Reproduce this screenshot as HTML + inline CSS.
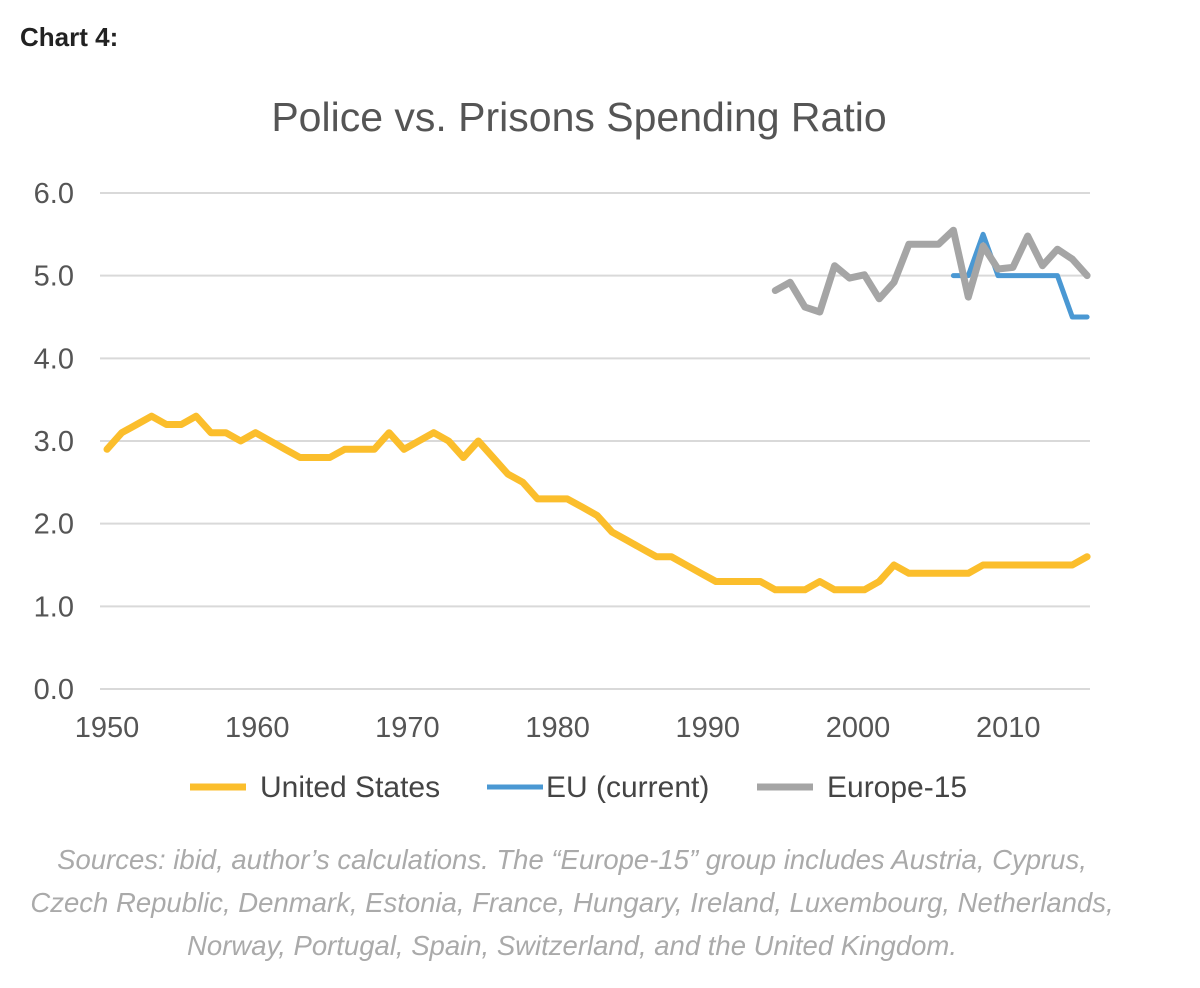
<!DOCTYPE html>
<html><head><meta charset="utf-8"><style>
body{margin:0;background:#fff;width:1200px;height:983px;overflow:hidden;font-family:"Liberation Sans",sans-serif}
</style></head><body>
<svg width="1200" height="983" id="svg">
<text x="20" y="46" font-size="26" font-weight="bold" fill="#222">Chart 4:</text>
<text x="579" y="131" font-size="41" fill="#555" text-anchor="middle">Police vs. Prisons Spending Ratio</text>
<g id="grid"></g><g id="lines"></g>
<g>
<line x1="190" y1="787" x2="246" y2="787" stroke="#FBBE2C" stroke-width="7"/>
<text x="260" y="797" font-size="30" fill="#444">United States</text>
<line x1="487" y1="787" x2="543" y2="787" stroke="#4A98D3" stroke-width="5"/>
<text x="546" y="797" font-size="30" fill="#444">EU (current)</text>
<line x1="757" y1="787" x2="813" y2="787" stroke="#A5A5A5" stroke-width="7"/>
<text x="827" y="797" font-size="30" fill="#444">Europe-15</text>
</g>
<g font-size="27.5" font-style="italic" fill="#aaa" text-anchor="middle">
<text x="572" y="869">Sources: ibid, author’s calculations. The “Europe-15” group includes Austria, Cyprus,</text>
<text x="572" y="912">Czech Republic, Denmark, Estonia, France, Hungary, Ireland, Luxembourg, Netherlands,</text>
<text x="572" y="955">Norway, Portugal, Spain, Switzerland, and the United Kingdom.</text>
</g>
</svg>
<script>
const yTicks=[0,1,2,3,4,5,6];
const xTicks=[1950,1960,1970,1980,1990,2000,2010];
const usStart=1950;
const usValues=[2.9,3.1,3.2,3.3,3.2,3.2,3.3,3.1,3.1,3.0,3.1,3.0,2.9,2.8,2.8,2.8,2.9,2.9,2.9,3.1,2.9,3.0,3.1,3.0,2.8,3.0,2.8,2.6,2.5,2.3,2.3,2.3,2.2,2.1,1.9,1.8,1.7,1.6,1.6,1.5,1.4,1.3,1.3,1.3,1.3,1.2,1.2,1.2,1.3,1.2,1.2,1.2,1.3,1.5,1.4,1.4,1.4,1.4,1.4,1.5,1.5,1.5,1.5,1.5,1.5,1.5,1.6];
const euStart=2007;
const euValues=[5.0,5.0,5.5,5.0,5.0,5.0,5.0,5.0,4.5,4.5];
const e15Start=1995;
const e15Values=[4.82,4.92,4.62,4.56,5.12,4.97,5.01,4.72,4.92,5.38,5.38,5.38,5.55,4.74,5.36,5.08,5.10,5.48,5.12,5.32,5.20,5.00];
const NS='http://www.w3.org/2000/svg';
const X=yr=>107+(yr-1950)*14.85;
const XL=yr=>107+(yr-1950)*15.02;
const Y=v=>689-v*82.67;
const grid=document.getElementById('grid'),lines=document.getElementById('lines');
function mk(t,a,p){const e=document.createElementNS(NS,t);for(const k in a)e.setAttribute(k,a[k]);p.appendChild(e);return e;}
yTicks.forEach(v=>{
 const l=mk('line',{x1:100,x2:1090,y1:Y(v),y2:Y(v),stroke:'#d9d9d9','stroke-width':2},grid);
 
 
 const t=mk('text',{x:74,y:Y(v)+10,'font-size':29,fill:'#555','text-anchor':'end'},grid);
 t.textContent=v.toFixed(1);
 
 
});
xTicks.forEach(yr=>{
 const t=mk('text',{x:XL(yr),y:737,'font-size':29,fill:'#555','text-anchor':'middle'},grid);
 t.textContent=yr;
 
 
});
function series(start,vals,color,w,name){
 const pts=vals.map((v,i)=>X(start+i).toFixed(1)+','+Y(v).toFixed(1)).join(' ');
 const p=mk('polyline',{points:pts,fill:'none',stroke:color,'stroke-width':w,'stroke-linejoin':'round','stroke-linecap':'round'},lines);
 
 
}
series(usStart,usValues,'#FBBE2C',7,'us-line');
series(euStart,euValues,'#4A98D3',5,'eu-line');
series(e15Start,e15Values,'#A5A5A5',7,'europe15-line');
</script>
</body></html>
